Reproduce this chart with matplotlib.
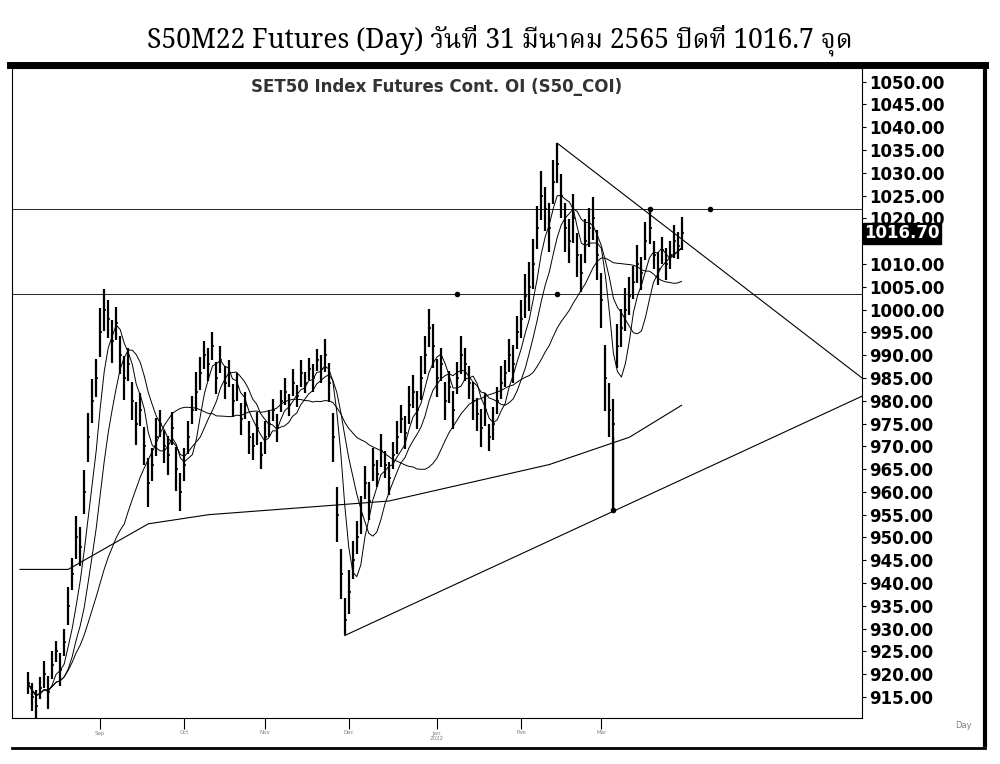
import matplotlib
matplotlib.use("Agg")
import matplotlib.pyplot as plt
import numpy as np
import pandas as pd

closes = [918,915,913,917,920,916,922,925,921,927,
          935,942,950,948,960,972,980,985,995,1000,
          998,993,997,990,985,988,980,975,978,970,
          962,966,972,975,970,968,974,965,960,966,
          972,978,982,986,990,988,992,985,989,984,
          986,980,983,976,979,972,970,974,968,972,
          975,978,974,980,982,979,984,981,986,984,
          987,985,989,987,990,984,972,955,942,932,
          938,945,950,955,962,958,966,964,969,966,
          963,968,972,976,973,979,982,978,985,990,
          996,992,985,988,980,983,978,985,990,988,
          984,980,977,974,978,972,975,980,984,986,
          990,988,995,998,1003,1005,1010,1018,1025,1022,
          1018,1028,1032,1025,1018,1015,1020,1012,1008,1015,
          1018,1020,1012,1002,985,978,975,992,996,1000,
          1003,1006,1010,1008,1015,1018,1012,1009,1013,1010,
          1012,1015,1014,1016.7]
bar_range = [4,5,6,4,5,6,5,4,6,5, 7,6,8,7,8,9,8,7,9,8,
             7,8,6,7,8,6,7,8,6,7, 9,6,7,5,6,7,6,8,7,6,
             6,5,7,6,5,6,5,6,5,6, 5,6,5,6,5,6,5,6,5,6,
             5,4,5,4,5,4,5,4,5,4, 4,5,4,5,6,7,9,10,9,8,
             8,7,6,7,6,7,6,5,6,5, 6,5,6,5,6,7,6,7,8,7,
             7,8,7,6,7,6,7,6,7,6, 6,7,6,7,6,5,6,5,6,5,
             6,7,6,7,8,9,9,8,9,8, 9,8,7,8,9,8,9,8,7,8,
             7,8,9,10,12,10,9,8,7,8, 7,6,7,6,7,6,5,6,5,6,
             5,6,5,6]
special_high = {19: 1004.5, 132: 1036.5}
special_low = {79: 928.5, 146: 956}
ma_long_days = [-2,10,20,30,45,60,75,90,110,130,150,163]
ma_long_vals = [943,943,948,953,955,956,957,958,962,966,972,979]
h_levels = [1022, 1003.5]
dot_days = [107, 132, 155, 170, 146]
dot_vals = [1003.5, 1003.5, 1022, 1022, 956]
yticks = [915 + 5*k for k in range(28)]
month_days = [18, 39, 59, 80, 102, 123, 143]
month_labels = ["Sep", "Oct", "Nov", "Dec", "Jan\n2022", "Feb", "Mar"]

n = len(closes)
x = np.arange(n)
c = np.array(closes, float)
r = np.array(bar_range, float)
hi = c + r * 0.6
lo = c - r * 0.6
for k, v in special_high.items(): hi[k] = v
for k, v in special_low.items(): lo[k] = v

fig = plt.figure(figsize=(10, 7.64), dpi=100)
ax = fig.add_axes([0.012, 1 - 718/764, 0.850, 650/764])
ax.vlines(x, lo, hi, color="black", lw=1.6)
ax.hlines(c, x, x + 0.5, color="black", lw=1.2)
s = pd.Series(c)
for w in (5, 10, 25):
    ax.plot(x, s.rolling(w, min_periods=1).mean(), color="black", lw=0.7)
ax.plot(ma_long_days, ma_long_vals, color="black", lw=0.8)
for lv in h_levels:
    ax.axhline(lv, color="black", lw=0.6)
xr = 208
ax.plot([132, xr], [1036.5, 985], color="black", lw=0.8)
ax.plot([79, xr], [928.5, 981], color="black", lw=0.8)
ax.plot([146, 146], [956, 972], color="black", lw=1)
ax.plot(dot_days, dot_vals, "o", color="black", ms=3)
ax.set_xlim(-4, xr)
ax.set_ylim(910.4, 1053)
ax.yaxis.tick_right()
ax.set_yticks(yticks)
ax.set_yticklabels(["" if v == 1015 else f"{v:.2f}" for v in yticks],
                   fontsize=12, fontweight="bold")
ax.tick_params(axis="y", length=3, pad=2)
ax.set_xticks(month_days)
ax.set_xticklabels(month_labels, fontsize=4, color="gray")
ax.tick_params(axis="x", length=8, pad=1)
ax.text(0.5, 0.985, "SET50 Index Futures Cont. OI (S50_COI)", transform=ax.transAxes,
        ha="center", va="top", fontsize=12, fontweight="bold", color="#333333")
ax.text(xr + 0.5, 1016.7, "1016.70", ha="left", va="center", fontsize=12, fontweight="bold",
        color="white", bbox=dict(facecolor="black", edgecolor="black", pad=1))
fig.text(0.955, 1 - 728/764, "Day", fontsize=6, color="gray")
fig.add_artist(plt.Line2D([0.010, 0.985], [1 - 65/764]*2, color="black", lw=5))
fig.add_artist(plt.Line2D([0.985, 0.985], [1 - 745/764, 1 - 65/764], color="black", lw=3))
fig.add_artist(plt.Line2D([0.012, 0.985], [1 - 748/764]*2, color="black", lw=2))
fig.text(0.5, 1 - 40/764, "S50M22 Futures (Day) วันที่ 31 มีนาคม 2565 ปิดที่ 1016.7 จุด",
         ha="center", va="center", fontsize=19,
         family=["Noto Serif Thai", "Noto Sans Thai", "Liberation Serif", "DejaVu Sans"])
fig.savefig("out.png", dpi=100)
